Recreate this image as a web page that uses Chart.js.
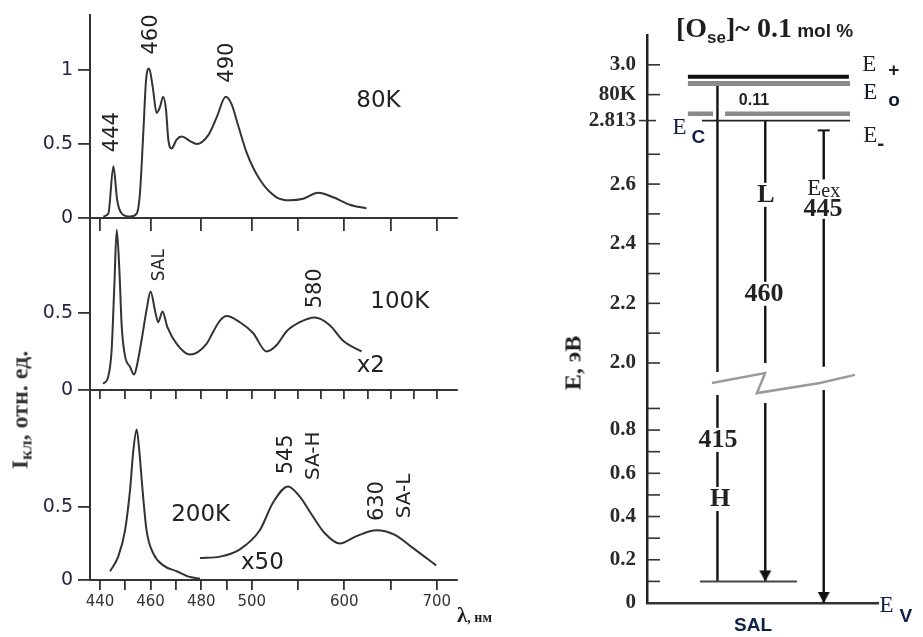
<!DOCTYPE html>
<html>
<head>
<meta charset="UTF-8">
<title>index.html</title>
<script src="https://cdn.jsdelivr.net/npm/chart.js"></script>
<style>
  body { margin: 0; background: #fff; }
  #wrap { position: relative; width: 923px; height: 637px; overflow: hidden; background: #fff; }
  canvas { position: absolute; }
  .t { position: absolute; color: #1e1e1e; white-space: nowrap; }
  .rot { transform: translate(-50%, -50%) rotate(-90deg); }
</style>
</head>
<body>
<div id="wrap">
  <canvas id="p80" width="470" height="240" style="left:0;top:0"></canvas>
  <canvas id="p100" width="470" height="200" style="left:0;top:210px"></canvas>
  <canvas id="p200" width="470" height="257" style="left:0;top:380px"></canvas>
  <canvas id="diag" width="383" height="637" style="left:540px;top:0"></canvas>

  <div class="t rot" style="left:20px;top:410px;font:bold 24px 'Liberation Serif';color:#333">I<span style="font-size:17px;position:relative;top:4px">кл</span>, отн. ед.</div>
  <div class="t" style="left:457px;top:605px;font:bold 21px 'Liberation Serif';line-height:21px">λ<span style="font-size:14px">, нм</span></div>
  <div class="t" style="left:676px;top:13px;font:bold 28px 'Liberation Serif';line-height:30px">[O<span style="font:bold 17px 'Liberation Sans';position:relative;top:6px">se</span>]~ 0.1<span style="font:bold 19px 'Liberation Sans'"> mol %</span></div>
  <div class="t rot" style="left:573px;top:363px;font:bold 24px 'Liberation Serif'">E, эВ</div>
</div>

<script>
// ---- spectra (wavelength nm, relative intensity) ----
const wl80  = [441.3, 443.3, 445.3, 446.8, 448.6, 451.9, 454.5, 455.8, 457.1, 458.2, 459.4, 460.8, 462.4, 463.7, 465.0, 466.1, 467.0, 468.3, 470.3, 472.3, 475.6, 478.2, 482.8, 486.1, 489.7, 492.0, 494.7, 498.0, 508.6, 526.7, 541.1, 555.5, 571.7, 588, 606, 624];
const int80 = [0.01, 0.03, 0.35, 0.12, 0.03, 0.01, 0.03, 0.17, 0.57, 0.93, 1.01, 0.89, 0.71, 0.75, 0.82, 0.73, 0.53, 0.47, 0.53, 0.55, 0.52, 0.50, 0.56, 0.68, 0.82, 0.77, 0.62, 0.44, 0.26, 0.14, 0.12, 0.13, 0.17, 0.14, 0.09, 0.065];

const wl100  = [441.3, 443.3, 444.6, 445.7, 446.6, 447.6, 448.6, 449.9, 451.9, 453.4, 454.2, 456.4, 458.4, 460.0, 461.7, 463.0, 464.7, 466.6, 470.3, 475.6, 482.1, 484.8, 487.4, 490.1, 495.3, 501.4, 515.9, 526.7, 537.5, 551.9, 568.1, 584.3, 598.7, 618.6];
const int100 = [0.04, 0.09, 0.26, 0.69, 1.04, 0.80, 0.41, 0.22, 0.15, 0.10, 0.13, 0.32, 0.52, 0.64, 0.52, 0.44, 0.51, 0.41, 0.30, 0.23, 0.30, 0.38, 0.45, 0.48, 0.44, 0.37, 0.25, 0.29, 0.38, 0.44, 0.47, 0.42, 0.32, 0.25];

const wl200  = [444.0, 447.2, 449.9, 451.9, 453.2, 454.5, 455.5, 456.8, 458.4, 461.1, 465.0, 470.3, 475.6, 479.5];
const int200 = [0.06, 0.16, 0.34, 0.62, 0.89, 1.03, 0.89, 0.62, 0.34, 0.18, 0.10, 0.06, 0.02, 0.01];
const wl200x50  = [479.5, 487.4, 495.3, 508.6, 523.0, 539.2, 551.9, 564.5, 578.9, 595.1, 613.2, 634.8, 654.1, 674.0, 699.3];
const int200x50 = [0.15, 0.16, 0.21, 0.34, 0.53, 0.64, 0.57, 0.45, 0.32, 0.25, 0.30, 0.34, 0.31, 0.22, 0.10];

// axis ticks (nm) and labels
const xTicks80  = [440, 460, 480, 500, 550, 600, 650, 700];
const xTicks100 = [440, 450, 460, 470, 480, 490, 500, 525, 550, 575, 600, 625, 650, 675, 700];
const xTicks200 = [440, 450, 460, 470, 480, 490, 500, 550, 600, 650, 700];
const xLabelNm  = [440, 460, 480, 500, 600, 700];
const yTicks80  = [0, 0.5, 1];
const yTicksLow = [0, 0.5];

// ---- energy diagram (eV) ----
const ePlus = 2.96, eZero = 2.937, eMinus = 2.836, eC = 2.813, eSAL = 0.1, eV = 0;
const transNames  = ['H', 'L', 'Eex'];
const transNm     = [415, 460, 445];
const transTop    = [eZero, eC, 2.78];
const transBottom = [eSAL, eSAL, eV];
const eTickVals   = [0, 0.1, 0.2, 0.3, 0.4, 0.5, 0.6, 0.7, 0.8, 0.9, 2.0, 2.1, 2.2, 2.3, 2.4, 2.5, 2.6, 2.7, 2.813, 2.9, 3.0];
const eTickLabels = ['0', '', '0.2', '', '0.4', '', '0.6', '', '0.8', '', '2.0', '', '2.2', '', '2.4', '', '2.6', '', '2.813', '80K', '3.0'];

// broken axes
const compress = 0.3656;              // scale factor past 500 nm
const axisPos = nm => nm <= 500 ? nm : 500 + (nm - 500) * compress;
const axisNm  = v => v <= 500 ? v : 500 + (v - 500) / compress;
const eAxis   = e => e >= 1.5 ? e : 1.195 + 0.725 * e;   // lower part squeezed

Chart.defaults.font.family = "'Liberation Sans', sans-serif";

// text drawn in data coordinates
const textPlugin = {
  id: 'texts',
  afterDatasetsDraw(chart, args, opts) {
    const ctx = chart.ctx, xs = chart.scales.x, ys = chart.scales.y;
    (opts.items || []).forEach(it => {
      const px = xs.getPixelForValue(it.x), py = ys.getPixelForValue(it.y);
      ctx.save();
      ctx.translate(px, py);
      if (it.rot) ctx.rotate(it.rot * Math.PI / 180);
      ctx.textBaseline = 'middle';
      ctx.textAlign = 'left';
      ctx.font = it.font;
      let w = ctx.measureText(it.t).width;
      if (it.sub) {
        ctx.font = it.subFont;
        w = Math.max(w, it.sdx + ctx.measureText(it.sub).width);
        ctx.font = it.font;
      }
      const x0 = it.left ? 0 : -w / 2;
      if (it.bg) { ctx.fillStyle = '#fff'; ctx.fillRect(x0 - 3, -it.bg / 2, w + 6, it.bg); }
      ctx.fillStyle = it.color || '#222';
      ctx.fillText(it.t, x0, 0);
      if (it.sub) { ctx.font = it.subFont; ctx.fillText(it.sub, x0 + it.sdx, it.sdy); }
      ctx.restore();
    });
  }
};

// tick marks pointing into the plot
const innerTicks = {
  id: 'innerTicks',
  afterDraw(chart, args, opts) {
    const sc = chart.scales.y, ctx = chart.ctx, x0 = chart.chartArea.left;
    ctx.save();
    ctx.strokeStyle = '#333';
    ctx.lineWidth = 1.6;
    sc.ticks.forEach((t, i) => {
      const y = sc.getPixelForValue(t.value);
      const ext = opts.extend.includes(i) ? 8 : 0;
      ctx.beginPath(); ctx.moveTo(x0 - ext, y); ctx.lineTo(x0 + 13 - ext / 2, y); ctx.stroke();
    });
    ctx.restore();
  }
};

const numFont = "21px 'DejaVu Sans'";
const kFont = "23px 'DejaVu Sans'";

function panel(id, sets, yMax, yTicks, xTicks, showX, tickLen, padTop, xHeight, texts) {
  new Chart(document.getElementById(id), {
    type: 'line',
    data: {
      datasets: sets.map(s => ({
        data: s.wl.map((w, i) => ({ x: axisPos(w), y: s.v[i] })),
        borderColor: '#333', borderWidth: 2, pointRadius: 0,
        cubicInterpolationMode: 'monotone', fill: false
      }))
    },
    options: {
      responsive: false, animation: false,
      layout: { padding: { top: padTop, right: 13, left: 0, bottom: 0 } },
      plugins: {
        legend: { display: false }, tooltip: { enabled: false },
        texts: { items: texts.map(l => ({ ...l, x: axisPos(l.x) })) }
      },
      scales: {
        x: {
          type: 'linear', min: 436.05, max: 581.1,
          afterBuildTicks: sc => { sc.ticks = xTicks.map(n => ({ value: axisPos(n) })); },
          afterFit: sc => { sc.height = xHeight; sc.paddingLeft = 0; sc.paddingRight = 0; },
          grid: { drawOnChartArea: false, tickLength: tickLen, color: '#333', lineWidth: 1.8 },
          border: { color: '#333', width: 2 },
          ticks: {
            display: showX, autoSkip: false, maxRotation: 0, minRotation: 0, padding: 3,
            color: '#333', font: { family: 'DejaVu Sans', size: 15 },
            callback: v => { const nm = Math.round(axisNm(v)); return xLabelNm.includes(nm) ? String(nm) : ''; }
          }
        },
        y: {
          min: 0, max: yMax,
          afterBuildTicks: sc => { sc.ticks = yTicks.map(v => ({ value: v })); },
          afterFit: sc => { sc.width = 90; sc.paddingTop = 0; sc.paddingBottom = 0; },
          grid: { drawOnChartArea: false, tickLength: 12, color: '#333', lineWidth: 1.8 },
          border: { color: '#333', width: 2 },
          ticks: {
            autoSkip: false, padding: 5, color: '#262640',
            font: { family: 'DejaVu Sans', size: 19 },
            callback: v => String(v)
          }
        }
      }
    },
    plugins: [textPlugin]
  });
}

panel('p80', [{ wl: wl80, v: int80 }], 1.372, yTicks80, xTicks80, false, 13, 15, 22, [
  { x: 445.1, y: 0.58, t: '444', font: numFont, rot: -90 },
  { x: 460.4, y: 1.24, t: '460', font: numFont, rot: -90 },
  { x: 490.6, y: 1.05, t: '490', font: numFont, rot: -90 },
  { x: 637, y: 0.79, t: '80K', font: kFont }
]);

panel('p100', [{ wl: wl100, v: int100 }], 1.11, yTicksLow, xTicks100, false, 9, 9, 20, [
  { x: 463.5, y: 0.81, t: 'SAL', font: "17px 'DejaVu Sans'", rot: -90 },
  { x: 569, y: 0.66, t: '580', font: numFont, rot: -90 },
  { x: 660, y: 0.57, t: '100K', font: kFont },
  { x: 628.6, y: 0.156, t: 'x2', font: kFont }
]);

panel('p200', [{ wl: wl200, v: int200 }, { wl: wl200x50, v: int200x50 }], 1.3, yTicksLow, xTicks200, true, 10, 10, 57, [
  { x: 537.8, y: 0.86, t: '545', font: numFont, rot: -90 },
  { x: 566.5, y: 0.85, t: 'SA-H', font: "20px 'DejaVu Sans'", rot: -90 },
  { x: 635.7, y: 0.54, t: '630', font: numFont, rot: -90 },
  { x: 665.4, y: 0.575, t: 'SA-L', font: "20px 'DejaVu Sans'", rot: -90 },
  { x: 479.8, y: 0.445, t: '200K', font: kFont },
  { x: 511.4, y: 0.116, t: 'x50', font: kFont }
]);

// ---- energy diagram ----
const arrow = document.createElement('canvas');
arrow.width = 14; arrow.height = 28;
(function () {
  const c = arrow.getContext('2d');
  c.fillStyle = '#111';
  c.beginPath(); c.moveTo(1, 3); c.lineTo(13, 3); c.lineTo(7, 14); c.closePath(); c.fill();
})();

const transX   = [30.5, 51.2, 76.5];
const breakTop = [1.97, 2.0, 1.987];
const breakBot = [1.893, 1.866, 1.909];

const hline = (y, x1, x2, color, width) => ({
  data: [{ x: x1, y: eAxis(y) }, { x: x2, y: eAxis(y) }],
  borderColor: color, borderWidth: width, pointRadius: 0
});

const diagSets = [
  hline(ePlus, 17.7, 87.4, '#111', 4),
  hline(eZero, 17.7, 87.9, '#8a8a8a', 5),
  hline(eZero, 17.7, 87.9, '#fff', 1.6),
  { data: [{ x: 17.7, y: eMinus }, { x: 28.6, y: eMinus }, { x: 30, y: null }, { x: 33.8, y: eMinus }, { x: 87.9, y: eMinus }],
    borderColor: '#8a8a8a', borderWidth: 4.5, pointRadius: 0 },
  { data: [{ x: 17.7, y: eMinus }, { x: 28.6, y: eMinus }, { x: 30, y: null }, { x: 33.8, y: eMinus }, { x: 87.9, y: eMinus }],
    borderColor: '#fff', borderWidth: 1.4, pointRadius: 0 },
  hline(eC, 23.8, 87.9, '#222', 1.8),
  hline(eSAL, 22.9, 64.9, '#444', 2)
];

transNames.forEach((n, i) => {
  const x = transX[i];
  const hasArrow = n !== 'H';
  diagSets.push({
    label: n + ' ' + transNm[i],
    data: [{ x, y: eAxis(transTop[i]) }, { x, y: breakTop[i] }, { x, y: null }, { x, y: breakBot[i] }, { x, y: eAxis(transBottom[i]) }],
    borderColor: '#111', borderWidth: 2.4,
    pointRadius: [n === 'Eex' ? 6 : 0, 0, 0, 0, hasArrow ? 6 : 0],
    pointStyle: ['line', 'circle', 'circle', 'circle', arrow],
    pointBorderColor: '#111', pointBorderWidth: 2
  });
});

// axis break marker
diagSets.push({
  data: [{ x: 28.1, y: 1.933 }, { x: 51.1, y: 1.966 }, { x: 47.6, y: 1.899 }, { x: 74.9, y: 1.933 }, { x: 90.0, y: 1.96 }],
  borderColor: '#9a9a9a', borderWidth: 2.5, pointRadius: 0
});

const serifE = "23px 'Liberation Serif'";
const bigB = "bold 26px 'Liberation Serif'";

new Chart(document.getElementById('diag'), {
  type: 'line',
  data: { datasets: diagSets.map(d => ({ ...d, fill: false, clip: false, tension: 0 })) },
  options: {
    responsive: false, animation: false,
    layout: { padding: { top: 35, right: 45, bottom: 34, left: 0 } },
    plugins: {
      legend: { display: false }, tooltip: { enabled: false },
      innerTicks: { extend: [eTickVals.indexOf(2.813)] },
      texts: { items: [
        { x: 93.2, y: 3.0, t: 'E', font: serifE, sub: '+', subFont: "bold 19px 'Liberation Sans'", sdx: 26, sdy: 6, left: true },
        { x: 93.6, y: 2.905, t: 'E', font: serifE, sub: 'o', subFont: "bold 19px 'Liberation Sans'", sdx: 25, sdy: 8, left: true, color: '#101830' },
        { x: 93.6, y: 2.76, t: 'E', font: serifE, sub: '-', subFont: "bold 21px 'Liberation Sans'", sdx: 14, sdy: 8, left: true },
        { x: 11.0, y: 2.787, t: 'E', font: serifE, sub: 'C', subFont: "bold 19px 'Liberation Sans'", sdx: 19, sdy: 9, left: true, color: '#10204a' },
        { x: 69.4, y: 2.582, t: 'E', font: serifE, sub: 'ex', subFont: "20px 'Liberation Serif'", sdx: 14, sdy: 2, left: true, bg: 20 },
        { x: 100.6, y: 1.186, t: 'E', font: serifE, sub: 'V', subFont: "bold 19px 'Liberation Sans'", sdx: 20, sdy: 11, left: true, color: '#10204a' },
        { x: 76.2, y: 2.517, t: '445', font: bigB, bg: 20 },
        { x: 51.5, y: 2.564, t: 'L', font: bigB, bg: 24 },
        { x: 50.6, y: 2.232, t: '460', font: bigB, bg: 24 },
        { x: 46.3, y: 2.879, t: '0.11', font: "bold 16px 'Liberation Sans'" },
        { x: 30.7, y: 1.742, t: '415', font: bigB, bg: 24 },
        { x: 31.6, y: 1.544, t: 'H', font: bigB, bg: 24 },
        { x: 45.9, y: 1.117, t: 'SAL', font: "bold 19px 'Liberation Sans'", color: '#10204a' }
      ] }
    },
    scales: {
      x: {
        type: 'linear', min: 0, max: 100,
        afterFit: sc => { sc.height = 0; sc.paddingLeft = 0; sc.paddingRight = 0; },
        grid: { drawOnChartArea: false, drawTicks: false },
        border: { color: '#333', width: 2.5 },
        ticks: { display: false }
      },
      y: {
        min: eAxis(0), max: 3.10,
        afterBuildTicks: sc => { sc.ticks = eTickVals.map(v => ({ value: eAxis(v) })); },
        afterFit: sc => { sc.width = 107; sc.paddingTop = 0; sc.paddingBottom = 0; },
        grid: { drawOnChartArea: false, drawTicks: false },
        border: { color: '#222', width: 2.5 },
        ticks: {
          autoSkip: false, padding: 11, color: '#2a2a2a',
          font: { family: 'Liberation Serif', size: 21, weight: 'bold' },
          callback: (v, i) => eTickLabels[i]
        }
      }
    }
  },
  plugins: [textPlugin, innerTicks]
});
</script>
</body>
</html>
